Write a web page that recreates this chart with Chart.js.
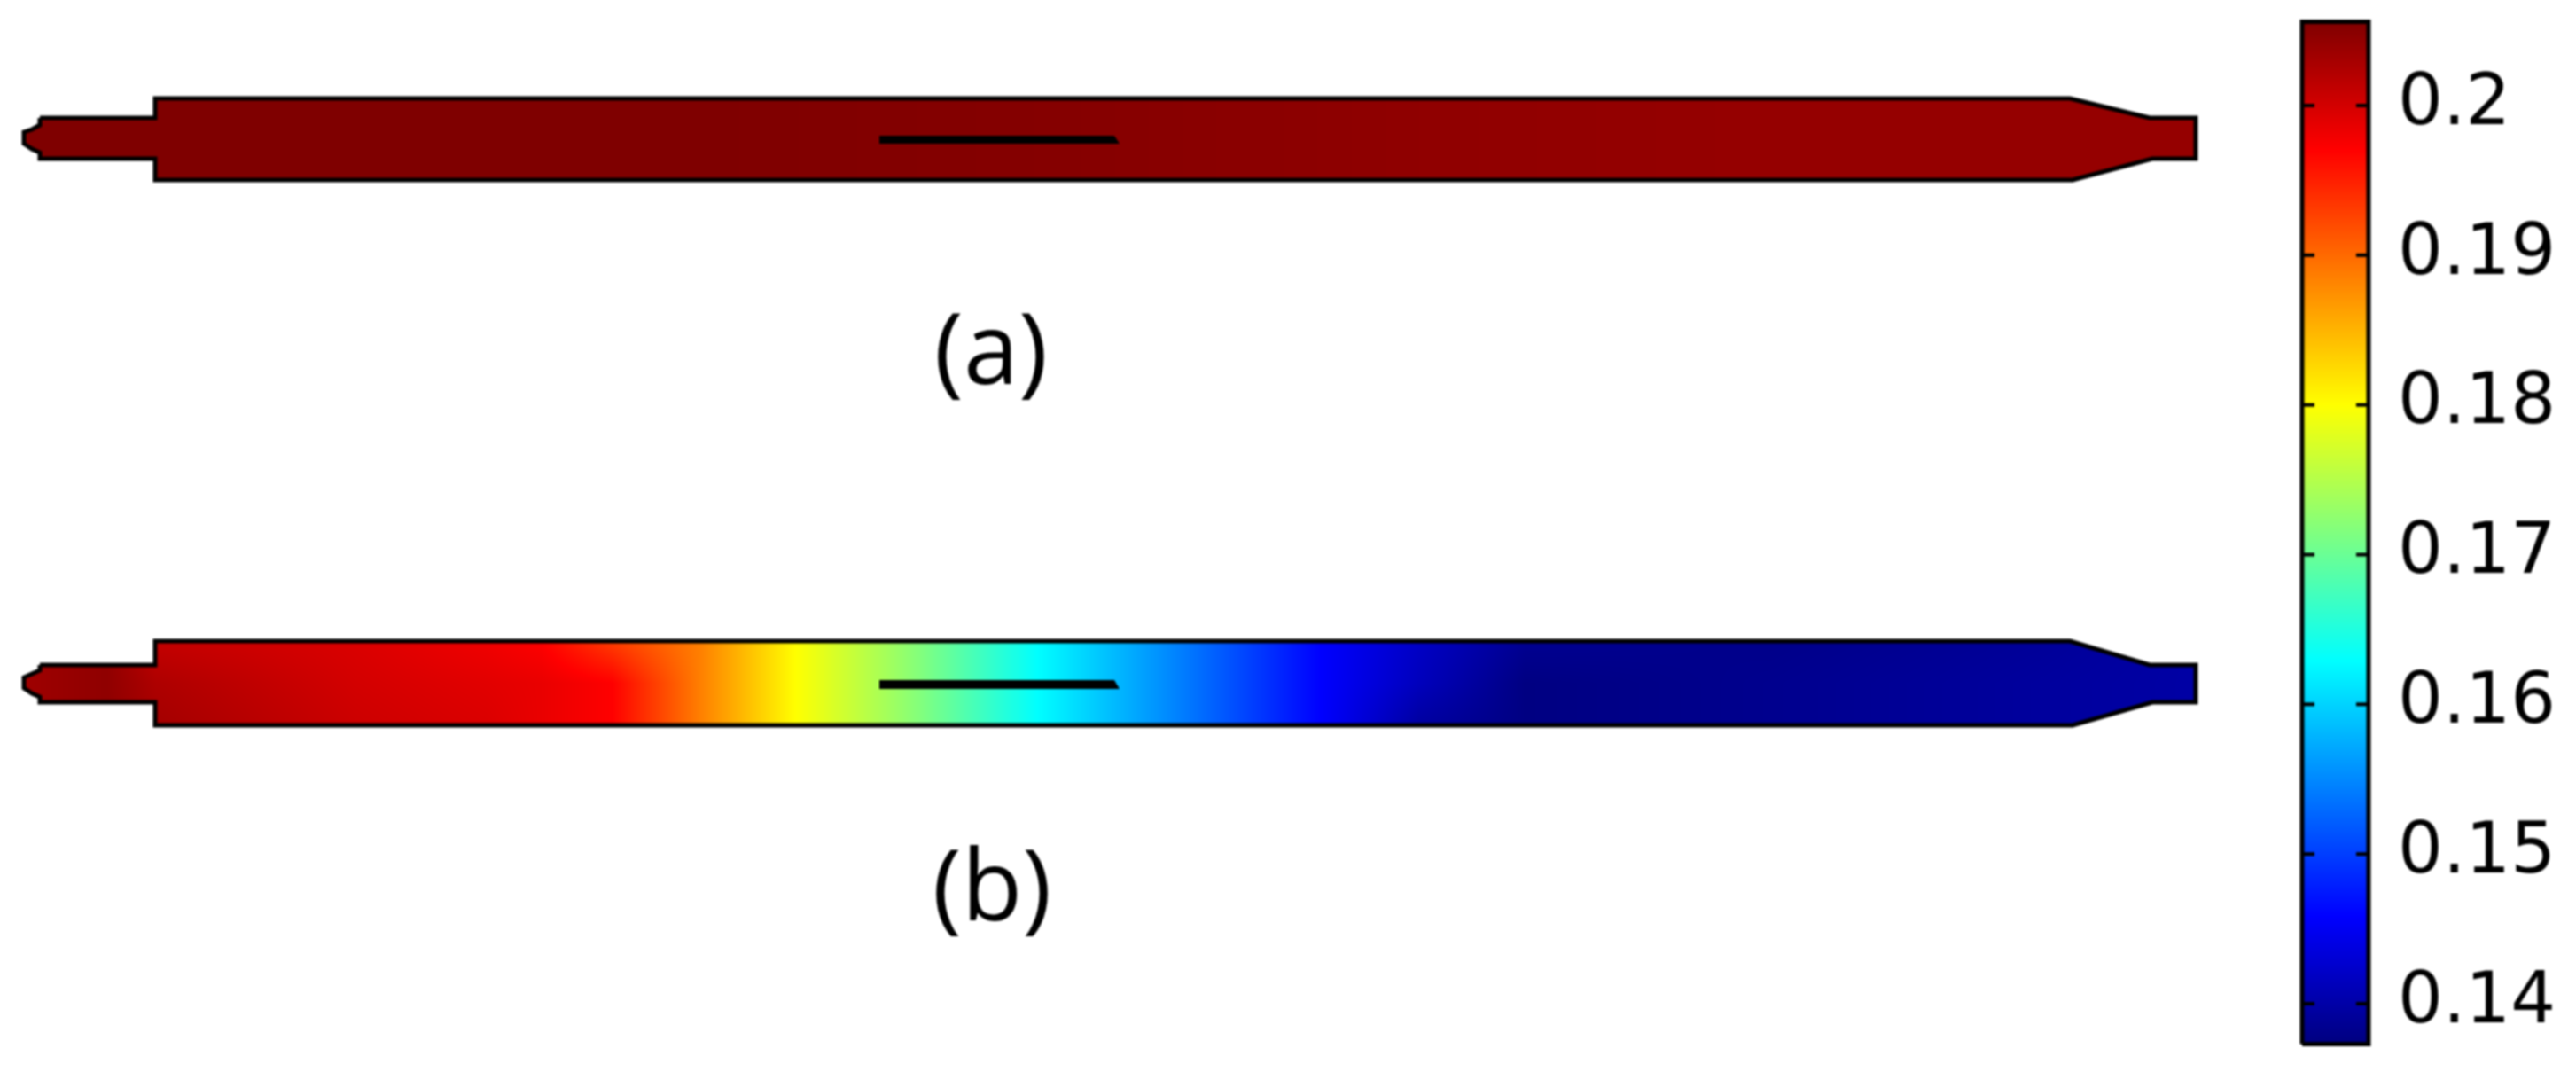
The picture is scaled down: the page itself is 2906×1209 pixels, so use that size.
<!DOCTYPE html>
<html>
<head>
<meta charset="utf-8">
<style>
  html, body { margin: 0; background: #fff; }
  canvas { display: block; filter: blur(0.8px); }
</style>
<script src="https://cdn.jsdelivr.net/npm/chart.js@4"></script>
</head>
<body>
<canvas id="fieldChart" width="2906" height="1209"></canvas>
<script>
// Outline of the part, in picture units
const outlineX = [45, 175, 175, 2335, 2425, 2477, 2477, 2428, 2338, 175, 175, 45, 45, 36, 27, 27, 36, 45, 45];
const outlineYA = [133, 133, 111, 111, 133, 133, 179, 179, 203, 203, 179, 179, 172, 168, 162, 149, 146, 141, 133];
const outlineYB = [750, 750, 723, 723, 750, 750, 792, 792, 818, 818, 792, 792, 786, 782, 776, 764, 760, 756, 750];

// Slit inside the part
const slitX = [992, 1257, 1263, 992, 992];
const slitYA = [153, 153, 162, 162, 153];
const slitYB = [767, 767, 777, 777, 767];

// Field values along the part (a)
const stationsA = [27, 800, 1200, 1600, 2000, 2477];
const fieldTopA = [0.2056, 0.2056, 0.2052, 0.2045, 0.2041, 0.2041];
const fieldMidA = [0.2056, 0.2056, 0.2052, 0.2045, 0.2041, 0.2041];
const fieldBotA = [0.2056, 0.2056, 0.2052, 0.2045, 0.2041, 0.2041];

// Field values along the part (b)
const stationsB = [27, 120, 175, 400, 550, 610, 690, 790, 897, 1040, 1170, 1330, 1490, 1600, 1720, 2000, 2300, 2477];
const fieldTopB = [0.2035, 0.2045, 0.2010, 0.1995, 0.1980, 0.1971, 0.1930, 0.1885, 0.1800, 0.1715, 0.1629, 0.1544, 0.1458, 0.1420, 0.1385, 0.1380, 0.1390, 0.1398];
const fieldMidB = [0.2035, 0.2045, 0.2025, 0.2000, 0.1990, 0.1985, 0.1971, 0.1885, 0.1800, 0.1715, 0.1629, 0.1544, 0.1458, 0.1414, 0.1375, 0.1383, 0.1393, 0.1398];
const fieldBotB = [0.2035, 0.2045, 0.2032, 0.2005, 0.1995, 0.1985, 0.1971, 0.1885, 0.1800, 0.1715, 0.1629, 0.1544, 0.1458, 0.1395, 0.1375, 0.1383, 0.1393, 0.1398];

// Colour bar
const colorbarX = [2597, 2672, 2672, 2597, 2597];
const colorbarV = [0.1373, 0.1373, 0.2056, 0.2056, 0.1373];
const colorbarTicks = [0.14, 0.15, 0.16, 0.17, 0.18, 0.19, 0.2];
const colorbarTickLabels = ['0.14', '0.15', '0.16', '0.17', '0.18', '0.19', '0.2'];
const colorbarTickLeftX = [2604, 2604, 2604, 2604, 2604, 2604, 2604];
const colorbarTickRightX = [2665, 2665, 2665, 2665, 2665, 2665, 2665];

// Jet colour map
const jetStops = [0, 0.125, 0.375, 0.625, 0.875, 1];
const jetColors = [[0, 0, 127], [0, 0, 255], [0, 255, 255], [255, 255, 0], [255, 0, 0], [127, 0, 0]];

// Panel captions
const captions = ['(a)', '(b)'];
const captionX = [1118, 1119];
const captionY = [433, 1038];

const vMin = colorbarV[0];
const vMax = colorbarV[2];

function jet(v) {
    const t = Math.min(1, Math.max(0, (v - vMin) / (vMax - vMin)));
    let i = 0;
    while (i < jetStops.length - 2 && t > jetStops[i + 1]) i++;
    const f = (t - jetStops[i]) / (jetStops[i + 1] - jetStops[i]);
    return jetColors[i].map((c, k) => Math.round(c + (jetColors[i + 1][k] - c) * f));
}

function lerpRow(stations, row, x) {
    if (x <= stations[0]) return row[0];
    for (let i = 1; i < stations.length; i++) {
        if (x <= stations[i]) {
            const f = (x - stations[i - 1]) / (stations[i] - stations[i - 1]);
            return row[i - 1] + (row[i] - row[i - 1]) * f;
        }
    }
    return row[row.length - 1];
}

// Paints the field to a canvas-sized pattern, used as the fill of a part
function fieldPattern(chart, stations, rows, yTop, yBot) {
    const sx = chart.scales.x;
    const sy = chart.scales.y;
    const off = document.createElement('canvas');
    off.width = chart.width;
    off.height = chart.height;
    const octx = off.getContext('2d');
    const top = Math.floor(sy.getPixelForValue(yTop));
    const bot = Math.ceil(sy.getPixelForValue(yBot));
    const left = Math.floor(sx.getPixelForValue(stations[0]));
    const right = Math.ceil(sx.getPixelForValue(stations[stations.length - 1]));
    const img = octx.createImageData(right - left, bot - top);
    for (let py = 0; py < bot - top; py++) {
        const fy = py / (bot - top - 1);
        for (let px = 0; px < right - left; px++) {
            const x = sx.getValueForPixel(left + px);
            const a = lerpRow(stations, rows[0], x);
            const b = lerpRow(stations, rows[1], x);
            const c = lerpRow(stations, rows[2], x);
            const v = fy < 0.5 ? a + (b - a) * fy * 2 : b + (c - b) * (fy - 0.5) * 2;
            const rgb = jet(v);
            const o = (py * (right - left) + px) * 4;
            img.data[o] = rgb[0];
            img.data[o + 1] = rgb[1];
            img.data[o + 2] = rgb[2];
            img.data[o + 3] = 255;
        }
    }
    octx.putImageData(img, left, top);
    return chart.ctx.createPattern(off, 'no-repeat');
}

function colorbarFill(context) {
    if (!context.chart.chartArea) return 'transparent'; // not laid out yet
    const scale = context.chart.scales.yVal;
    const g = context.chart.ctx.createLinearGradient(0, scale.getPixelForValue(vMin), 0, scale.getPixelForValue(vMax));
    jetStops.forEach((s, i) => g.addColorStop(s, 'rgb(' + jetColors[i].join(',') + ')'));
    return g;
}

const toPoints = (xs, ys) => xs.map((x, i) => ({ x: x, y: ys[i] }));

const shape = {
    type: 'scatter',
    showLine: true,
    fill: 'shape',
    pointRadius: 0,
    borderColor: '#000',
    borderWidth: 5,
    tension: 0,
    clip: false
};

const patterns = {};
function partFill(key, stations, rows, yTop, yBot) {
    return function (context) {
        if (!context.chart.chartArea) return 'transparent'; // not laid out yet
        if (!patterns[key]) patterns[key] = fieldPattern(context.chart, stations, rows, yTop, yBot);
        return patterns[key];
    };
}

const tickDots = (xs) => ({
    type: 'scatter',
    order: -1,
    data: toPoints(xs, colorbarTicks),
    yAxisID: 'yVal',
    pointStyle: 'line',
    pointRadius: 7,
    pointBorderColor: '#000',
    pointBorderWidth: 4,
    showLine: false
});

const captionPlugin = {
    id: 'captions',
    afterDatasetsDraw(chart) {
        const c = chart.ctx;
        c.save();
        c.fillStyle = '#000';
        c.font = '112px "Open Sans"';
        c.textAlign = 'center';
        c.textBaseline = 'alphabetic';
        captions.forEach((t, i) => {
            c.fillText(t, chart.scales.x.getPixelForValue(captionX[i]), chart.scales.y.getPixelForValue(captionY[i]));
        });
        c.restore();
    }
};

const ctx = document.getElementById('fieldChart').getContext('2d');
const fieldChart = new Chart(ctx, {
    type: 'scatter',
    data: {
        datasets: [
            { ...shape, label: 'a', data: toPoints(outlineX, outlineYA),
              backgroundColor: partFill('a', stationsA, [fieldTopA, fieldMidA, fieldBotA], 111, 203) },
            { ...shape, label: 'b', data: toPoints(outlineX, outlineYB),
              backgroundColor: partFill('b', stationsB, [fieldTopB, fieldMidB, fieldBotB], 723, 818) },
            { ...shape, label: 'slit a', order: -1, data: toPoints(slitX, slitYA), backgroundColor: '#000', borderWidth: 0 },
            { ...shape, label: 'slit b', order: -1, data: toPoints(slitX, slitYB), backgroundColor: '#000', borderWidth: 0 },
            { ...shape, label: 'colorbar', data: toPoints(colorbarX, colorbarV), yAxisID: 'yVal',
              backgroundColor: colorbarFill },
            tickDots(colorbarTickLeftX),
            tickDots(colorbarTickRightX)
        ]
    },
    options: {
        responsive: false,
        animation: false,
        layout: { padding: 0, autoPadding: false },
        plugins: { legend: { display: false }, tooltip: { enabled: false } },
        scales: {
            x: { type: 'linear', min: 0, max: 2906, display: false },
            y: { type: 'linear', min: 0, max: 1209, reverse: true, display: false },
            yVal: {
                type: 'linear',
                min: 0.13544,
                max: 0.20705,
                position: 'left',
                grid: { display: false, drawTicks: false },
                border: { display: false },
                afterBuildTicks(scale) {
                    scale.ticks = colorbarTicks.map(v => ({ value: v }));
                },
                // axis takes no room, its labels are pushed over to the bar
                afterFit(scale) {
                    scale.width = 0;
                    scale.paddingTop = 0;
                    scale.paddingBottom = 0;
                    scale.paddingLeft = 0;
                    scale.paddingRight = 0;
                },
                ticks: {
                    mirror: true,
                    padding: 2705,
                    color: '#000',
                    font: { family: '"DejaVu Sans"', size: 80 },
                    autoSkip: false,
                    callback: (v) => colorbarTickLabels[colorbarTicks.indexOf(v)]
                }
            }
        }
    },
    plugins: [captionPlugin]
});
</script>
</body>
</html>
